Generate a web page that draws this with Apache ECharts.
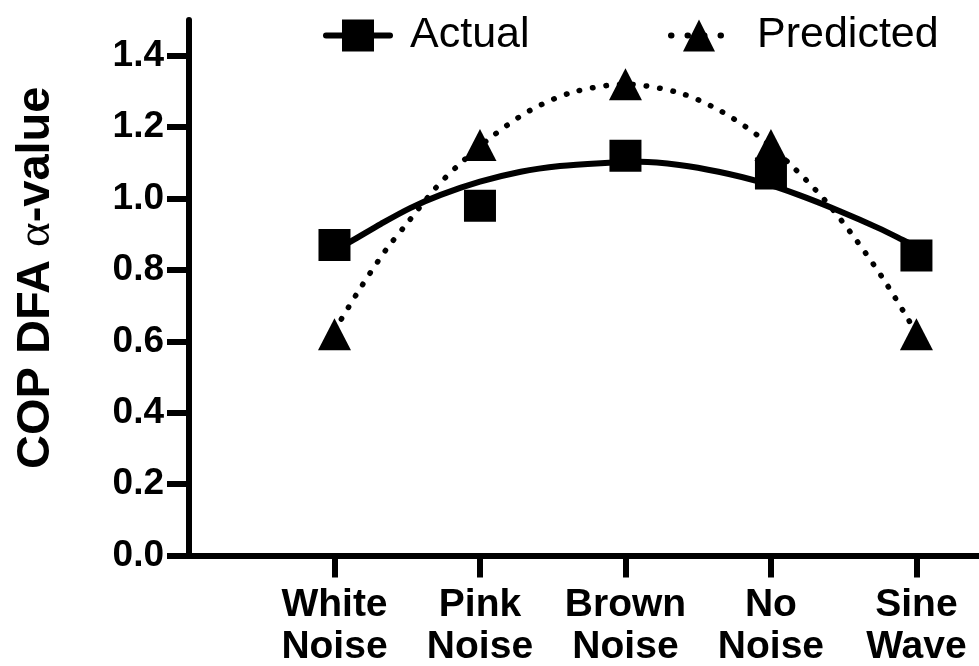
<!DOCTYPE html>
<html>
<head>
<meta charset="utf-8">
<script src="https://cdn.jsdelivr.net/npm/echarts@6/dist/echarts.min.js"></script>
<style>
html,body{margin:0;padding:0;background:#fff;}
#c{width:979px;height:666px;}
</style>
</head>
<body>
<div id="c"></div>
<script>
// ---- data ----
const categories = ['White Noise', 'Pink Noise', 'Brown Noise', 'No Noise', 'Sine Wave'];
const actual = [0.87, 0.98, 1.12, 1.07, 0.84];
const predicted = [0.62, 1.15, 1.32, 1.15, 0.62];
// fitted curves: positions (1 = White Noise ... 5 = Sine Wave) and values
const actualFitX = [1.0, 1.11, 1.32, 1.52, 1.73, 2.0, 2.28, 2.55, 2.83, 3.1, 3.37, 3.64, 3.92, 4.19, 4.47, 4.74, 4.93, 5.0];
const actualFitY = [0.855, 0.879, 0.929, 0.973, 1.010, 1.047, 1.075, 1.091, 1.099, 1.103, 1.094, 1.075, 1.047, 1.010, 0.965, 0.917, 0.879, 0.865];
const predictedFitX = [1.0, 1.17, 1.35, 1.49, 1.69, 1.84, 2.09, 2.35, 2.64, 3.0, 3.37, 3.65, 3.92, 4.16, 4.38, 4.58, 4.77, 4.94, 5.0];
const predictedFitY = [0.63, 0.744, 0.854, 0.926, 1.027, 1.089, 1.176, 1.248, 1.298, 1.32, 1.296, 1.246, 1.173, 1.085, 0.991, 0.887, 0.776, 0.664, 0.62];
const yTicks = [0, 0.2, 0.4, 0.6, 0.8, 1.0, 1.2, 1.4];
const xTicks = [1, 2, 3, 4, 5];

const pts = (arr) => arr.map((v, i) => [i + 1, v]);
const curve = (xs, ys) => ys.map((v, i) => [xs[i], v]);

const chart = echarts.init(document.getElementById('c'), null, {renderer: 'canvas'});
const FONT = '"Liberation Sans", Arial, Helvetica, sans-serif';

chart.setOption({
  animation: false,
  backgroundColor: '#ffffff',
  textStyle: {fontFamily: FONT, color: '#000'},
  legend: [
    {
      data: ['Actual'], left: 318, top: 9,
      itemWidth: 64, itemHeight: 40,
      textStyle: {fontFamily: FONT, fontSize: 43, color: '#000', padding: [0, 0, 0, 15]},
      lineStyle: {width: 6, cap: 'round'},
      selectedMode: false
    },
    {
      data: ['Predicted'], left: 663, top: 9,
      itemWidth: 56, itemHeight: 40,
      textStyle: {fontFamily: FONT, fontSize: 43, color: '#000', padding: [0, 0, 0, 25]},
      lineStyle: {width: 6, cap: 'round', type: [0.5, 16]},
      selectedMode: false
    }
  ],
  grid: {left: 189, right: 0, top: 20, bottom: 110.5, containLabel: false, outerBoundsMode: 'none'},
  xAxis: {
    type: 'value', min: 0, max: 5.43,
    axisLine: {show: true, lineStyle: {color: '#000', width: 6}},
    axisTick: {show: true, length: 22, lineStyle: {color: '#000', width: 6}, customValues: xTicks},
    axisLabel: {
      customValues: xTicks,
      formatter: (v) => (categories[Math.round(v) - 1] || '').replace(' ', '\n'),
      fontFamily: FONT, fontSize: 39, fontWeight: 'bold', color: '#000',
      lineHeight: 42, margin: 29
    },
    splitLine: {show: false}
  },
  yAxis: {
    type: 'value', min: 0, max: 1.5,
    name: 'COP DFA {a|α}-value',
    nameLocation: 'middle', nameGap: 129,
    nameTextStyle: {
      fontFamily: FONT, fontSize: 47, fontWeight: 'bold', color: '#000',
      padding: [0, 0, 0, 20],
      rich: {a: {fontFamily: '"Liberation Serif", "DejaVu Serif", serif', fontSize: 47, fontWeight: 'normal', color: '#000'}}
    },
    axisLine: {show: true, lineStyle: {color: '#000', width: 6}},
    axisTick: {show: true, length: 22, lineStyle: {color: '#000', width: 6}, customValues: yTicks},
    axisLabel: {
      customValues: yTicks,
      formatter: (v) => v.toFixed(1),
      fontFamily: FONT, fontSize: 37, fontWeight: 'bold', color: '#000', margin: 25
    },
    splitLine: {show: false}
  },
  series: [
    {
      name: 'Actual', type: 'line', data: curve(actualFitX, actualFitY), smooth: 0.3,
      symbol: 'rect', showSymbol: false, z: 2,
      itemStyle: {color: '#000'},
      lineStyle: {color: '#000', width: 6, type: 'solid'}
    },
    {
      name: 'Predicted', type: 'line', data: curve(predictedFitX, predictedFitY), smooth: 0.3,
      symbol: 'triangle', showSymbol: false, z: 2,
      itemStyle: {color: '#000'},
      lineStyle: {color: '#000', width: 5.5, type: [0.5, 13], cap: 'round'}
    },
    {
      name: 'ActualPts', type: 'scatter', data: pts(actual),
      symbol: 'rect', symbolSize: 32, z: 3,
      itemStyle: {color: '#000', opacity: 1}
    },
    {
      name: 'PredictedPts', type: 'scatter', data: pts(predicted),
      symbol: 'triangle', symbolSize: [33, 32], z: 3,
      itemStyle: {color: '#000', opacity: 1}
    }
  ]
});
</script>
</body>
</html>
